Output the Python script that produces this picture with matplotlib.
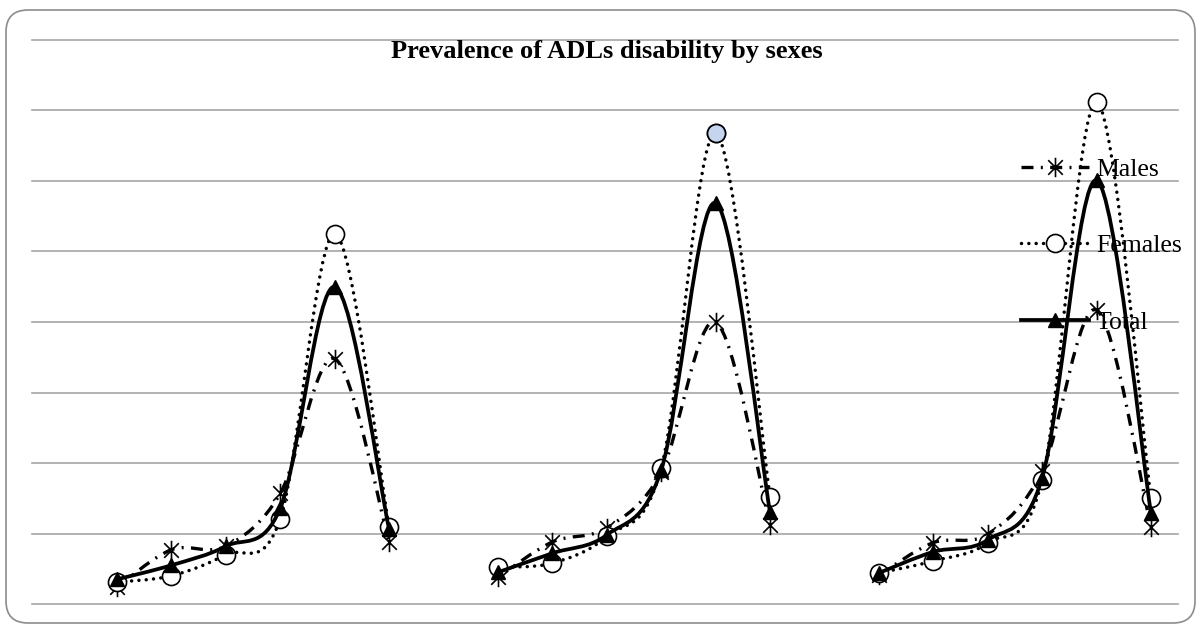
import numpy as np
import matplotlib
matplotlib.use("Agg")
import matplotlib.pyplot as plt
from matplotlib.path import Path
from matplotlib.patches import PathPatch, FancyBboxPatch
from matplotlib.lines import Line2D
from matplotlib.transforms import IdentityTransform

plt.rcParams["font.family"] = ["Liberation Serif", "DejaVu Serif"]

title = "Prevalence of ADLs disability by sexes"
series_names = ["Males", "Females", "Total"]

# three blocks of six points, one blank slot between blocks
nan = np.nan
males = [2.4, 7.7, 8.2, 15.7, 34.8, 8.8, nan,
         3.8, 8.8, 10.8, 18.7, 40.0, 11.2, nan,
         4.1, 8.7, 9.9, 18.9, 41.7, 10.9]
females = [3.1, 4.0, 7.0, 12.1, 52.5, 10.9, nan,
           5.2, 5.8, 9.6, 19.3, 66.8, 15.2, nan,
           4.4, 6.1, 8.7, 17.6, 71.2, 15.0]
total = [3.5, 5.5, 8.2, 13.6, 45.0, 10.6, nan,
         4.5, 7.2, 9.8, 19.0, 56.9, 13.0, nan,
         4.4, 7.4, 9.1, 17.9, 60.1, 12.9]
highlight_point = 11  # the blue filled female marker
y_ticks = [0, 10, 20, 30, 40, 50, 60, 70, 80]


def smooth_paths(values):
    # excel style smoothed line, cubic bezier through each block of points
    ys = np.asarray(values, dtype=float)
    xs = np.arange(len(ys))
    paths = []
    ok = ~np.isnan(ys)
    start = None
    for i in range(len(ys) + 1):
        if i < len(ys) and ok[i]:
            if start is None:
                start = i
            continue
        if start is not None:
            pts = np.column_stack([xs[start:i], ys[start:i]])
            n = len(pts)
            verts = [pts[0]]
            codes = [Path.MOVETO]
            for k in range(n - 1):
                p0 = pts[max(k - 1, 0)]
                p1 = pts[k]
                p2 = pts[k + 1]
                p3 = pts[min(k + 2, n - 1)]
                verts += [p1 + (p2 - p0) / 6, p2 - (p3 - p1) / 6, p2]
                codes += [Path.CURVE4] * 3
            paths.append(Path(verts, codes))
            start = None
    return paths


star = Path([(0, -1), (0, 1), (-0.75, -0.75), (0.75, 0.75), (-0.75, 0.75), (0.75, -0.75)],
            [Path.MOVETO, Path.LINETO] * 3)

styles = {
    "Males": dict(lw=2.4, ls=(0, (3.6, 2.2, 0.6, 2.2)), cap="butt",
                  marker=star, ms=14, mfc="none", mew=1.2),
    "Females": dict(lw=2.5, ls=(0, (0.01, 2.1)), cap="round",
                    marker="o", ms=13, mfc="white", mew=1.2),
    "Total": dict(lw=2.7, ls="-", cap="butt",
                  marker="^", ms=10, mfc="black", mew=1.0),
}
data = {"Males": males, "Females": females, "Total": total}

fig = plt.figure(figsize=(12, 6.27), dpi=100)
ax = fig.add_axes([32 / 1200, 23 / 627, 1146 / 1200, 564 / 627])

x = np.arange(len(males))
handles = []
for z, name in enumerate(series_names):
    st = styles[name]
    for p in smooth_paths(data[name]):
        patch = PathPatch(p, fill=False, edgecolor="black", lw=st["lw"],
                          linestyle=st["ls"], capstyle=st["cap"], zorder=3 + z)
        ax.add_patch(patch)
    ax.plot(x, data[name], ls="none", marker=st["marker"], ms=st["ms"],
            mfc=st["mfc"], mec="black", mew=st["mew"], zorder=3.5 + z)
    handles.append(Line2D([], [], color="black", lw=st["lw"], ls=st["ls"],
                          dash_capstyle=st["cap"], marker=st["marker"], ms=st["ms"],
                          mfc=st["mfc"], mec="black", mew=st["mew"], label=name))

ax.plot(x[highlight_point], females[highlight_point], ls="none", marker="o",
        ms=styles["Females"]["ms"], mfc="#c5d4ef", mec="black", mew=1.2, zorder=5)

ax.set_xlim(-1.562, 19.496)
ax.set_ylim(0, 80)
ax.set_yticks(y_ticks)
ax.set_xticks([])
ax.yaxis.grid(True, color="#a6a6a6", lw=1.2)
for gl in ax.get_ygridlines():
    gl.set_clip_on(False)
ax.tick_params(length=0, labelleft=False, labelbottom=False)
for s in ax.spines.values():
    s.set_visible(False)
ax.set_axisbelow(True)

leg = ax.legend(handles=handles, loc="upper left", bbox_to_anchor=(1021 / 1200, 0.748),
                bbox_transform=fig.transFigure, frameon=False, fontsize=18.5,
                handlelength=2.65, handletextpad=0.27, labelspacing=2.08,
                borderpad=0, borderaxespad=0, numpoints=1)
leg.set_zorder(2)

fig.text(0.506, 0.908, title, ha="center", va="baseline", fontsize=19, fontweight="bold")

frame = FancyBboxPatch((6, 4), 1189, 613, boxstyle="round,pad=0,rounding_size=22",
                       transform=IdentityTransform(), fill=False, edgecolor="#8c8c8c", lw=1.2)
fig.patches.append(frame)

fig.savefig("out.png", dpi=100)
